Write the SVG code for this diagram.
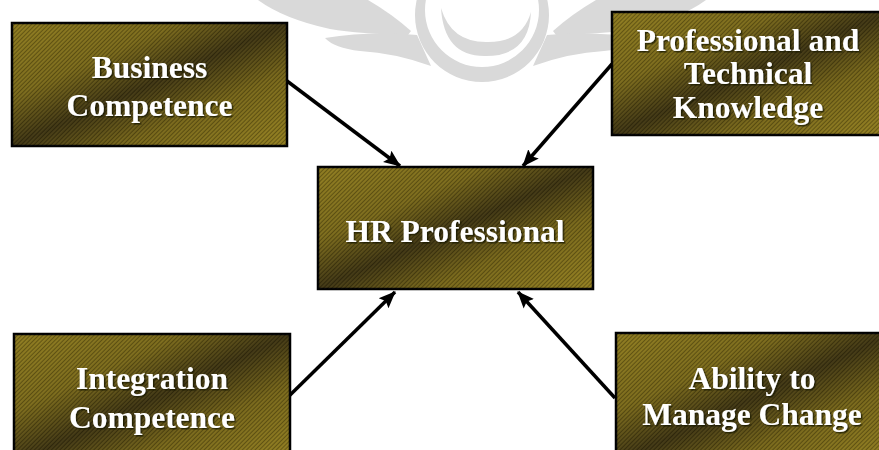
<svg xmlns="http://www.w3.org/2000/svg" width="879" height="450" viewBox="0 0 879 450">
  <defs>
    <linearGradient id="gold" x1="0" y1="0" x2="1" y2="1">
      <stop offset="0" stop-color="#8d7a1c"/>
      <stop offset="0.3" stop-color="#7a6918"/>
      <stop offset="0.5" stop-color="#3e3410"/>
      <stop offset="0.7" stop-color="#776617"/>
      <stop offset="1" stop-color="#927e1d"/>
    </linearGradient>
    <pattern id="hatch" width="3" height="3" patternUnits="userSpaceOnUse" patternTransform="rotate(45)">
      <rect x="0" y="0" width="1" height="3" fill="#000" fill-opacity="0.28"/>
      <rect x="1.5" y="0" width="0.8" height="3" fill="#fff" fill-opacity="0.07"/>
    </pattern>
    <filter id="tshadow" x="-10%" y="-30%" width="120%" height="160%">
      <feDropShadow dx="1.5" dy="1.5" stdDeviation="0.6" flood-color="#1e1805" flood-opacity="0.8"/>
    </filter>
    <marker id="arrow" markerUnits="userSpaceOnUse" markerWidth="18" markerHeight="16" refX="16" refY="8" orient="auto">
      <path d="M0,1 L17,8 L0,15 L3,8 Z" fill="#000"/>
    </marker>
  </defs>
  <style>
    .box { fill: url(#gold); stroke: #000; stroke-width: 2.5; }
    .hatch { fill: url(#hatch); stroke: none; }
    .lbl { font-family: "Liberation Serif", "Times New Roman", serif; font-weight: bold; font-size: 31.5px; fill: #ffffff; text-anchor: middle; filter: url(#tshadow); }
    .wm { fill: #d9d9d9; }
    .conn { stroke: #000; stroke-width: 3.5; fill: none; marker-end: url(#arrow); }
  </style>

  <rect x="0" y="0" width="879" height="450" fill="#ffffff"/>

  <g id="watermark">
    <path class="wm" fill-rule="evenodd" d="M415,15 A67,67 0 1 0 549,15 A67,67 0 1 0 415,15 Z M425,10 A57,57 0 1 0 539,10 A57,57 0 1 0 425,10 Z"/>
    <path class="wm" d="M441,8 Q444,57 486,56 Q529,56 531,12 Q522,43 486,42 Q451,42 441,8 Z"/>
    <path class="wm" d="M258,0 L368,0 Q392,14 411,31 L408,35 Q360,34 330,29 Q284,19 258,0 Z"/>
    <path class="wm" d="M325,38 Q370,31 417,35 L431,66 Q395,53 360,51 Q334,48 325,38 Z"/>
    <path class="wm" d="M706,0 L596,0 Q572,14 553,31 L556,35 Q604,34 634,29 Q680,19 706,0 Z"/>
    <path class="wm" d="M639,38 Q594,31 547,35 L533,66 Q569,53 604,51 Q630,48 639,38 Z"/>
  </g>

  <g id="connectors">
    <line class="conn" x1="287" y1="81" x2="400" y2="166"/>
    <line class="conn" x1="612" y1="64" x2="523" y2="166"/>
    <line class="conn" x1="287" y1="398" x2="395" y2="292"/>
    <line class="conn" x1="615" y1="398" x2="518" y2="292"/>
  </g>

  <g id="business">
    <rect class="box" x="12" y="23" width="275" height="123"/>
    <rect class="hatch" x="12" y="23" width="275" height="123"/>
    <text class="lbl" x="149.5" y="78">Business</text>
    <text class="lbl" x="149.5" y="116">Competence</text>
  </g>

  <g id="professional-technical">
    <rect class="box" x="612" y="12" width="276" height="123"/>
    <rect class="hatch" x="612" y="12" width="276" height="123"/>
    <text class="lbl" x="748" y="51">Professional and</text>
    <text class="lbl" x="748" y="84">Technical</text>
    <text class="lbl" x="748" y="118">Knowledge</text>
  </g>

  <g id="hr-professional">
    <rect class="box" x="318" y="167" width="275" height="122"/>
    <rect class="hatch" x="318" y="167" width="275" height="122"/>
    <text class="lbl" x="455" y="242">HR Professional</text>
  </g>

  <g id="integration">
    <rect class="box" x="14" y="334" width="276" height="130"/>
    <rect class="hatch" x="14" y="334" width="276" height="130"/>
    <text class="lbl" x="152" y="389">Integration</text>
    <text class="lbl" x="152" y="428">Competence</text>
  </g>

  <g id="manage-change">
    <rect class="box" x="616" y="333" width="276" height="130"/>
    <rect class="hatch" x="616" y="333" width="276" height="130"/>
    <text class="lbl" x="752" y="389">Ability to</text>
    <text class="lbl" x="752" y="425">Manage Change</text>
  </g>
</svg>
